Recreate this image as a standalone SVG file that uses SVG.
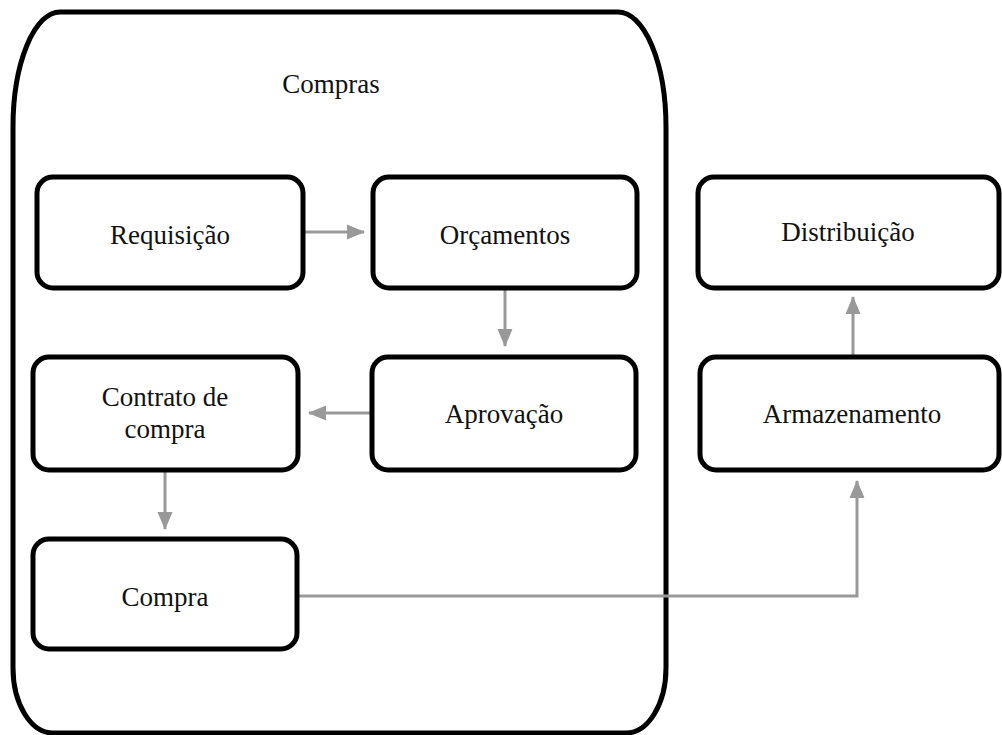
<svg xmlns="http://www.w3.org/2000/svg" width="1002" height="735" viewBox="0 0 1002 735">
<style>
.box{fill:#fff;stroke:#000;stroke-width:5}
.lbl{font-family:"Liberation Serif","Times New Roman",serif;font-size:27px;fill:#111;text-anchor:middle}
.conn{fill:none;stroke:#999;stroke-width:3}
</style>
<defs>
<marker id="ah" markerUnits="userSpaceOnUse" markerWidth="18" markerHeight="18" viewBox="0 0 18 18" refX="17" refY="9" orient="auto">
<path d="M0,1.5 L18,9 L0,16.5 Z" fill="#999"/>
</marker>
</defs>
<rect width="1002" height="735" fill="#fff"/>
<g id="compras-group">
<path class="box" d="M60,12 H618 A48,115 0 0 1 666,127 V668 A40,65 0 0 1 626,733 H53 A40,65 0 0 1 13,668 V127 A47,115 0 0 1 60,12 Z" fill="none"/>
<text class="lbl" x="331" y="93">Compras</text>
</g>
<g id="connectors">
<path class="conn" d="M305,232 H364" marker-end="url(#ah)"/>
<path class="conn" d="M505,290 V346" marker-end="url(#ah)"/>
<path class="conn" d="M370,413 H309" marker-end="url(#ah)"/>
<path class="conn" d="M165,472 V529" marker-end="url(#ah)"/>
<path class="conn" d="M297,596 H857 V481" marker-end="url(#ah)"/>
<path class="conn" d="M853,356 V297" marker-end="url(#ah)"/>
</g>
<g id="requisicao">
<rect class="box" x="37" y="177" width="266" height="111" rx="16"/>
<text class="lbl" x="170" y="244">Requisição</text>
</g>
<g id="orcamentos">
<rect class="box" x="373" y="177" width="264" height="111" rx="16"/>
<text class="lbl" x="505" y="244">Orçamentos</text>
</g>
<g id="aprovacao">
<rect class="box" x="372" y="357" width="264" height="113" rx="16"/>
<text class="lbl" x="504" y="423">Aprovação</text>
</g>
<g id="contrato">
<rect class="box" x="33" y="357" width="265" height="113" rx="16"/>
<text class="lbl" x="165" y="406">Contrato de</text>
<text class="lbl" x="165" y="438">compra</text>
</g>
<g id="compra">
<rect class="box" x="33" y="539" width="264" height="110" rx="16"/>
<text class="lbl" x="165" y="606">Compra</text>
</g>
<g id="distribuicao">
<rect class="box" x="698" y="177" width="301" height="111" rx="16"/>
<text class="lbl" x="848" y="241">Distribuição</text>
</g>
<g id="armazenamento">
<rect class="box" x="700" y="357" width="299" height="113" rx="16"/>
<text class="lbl" x="852" y="423">Armazenamento</text>
</g>
</svg>
